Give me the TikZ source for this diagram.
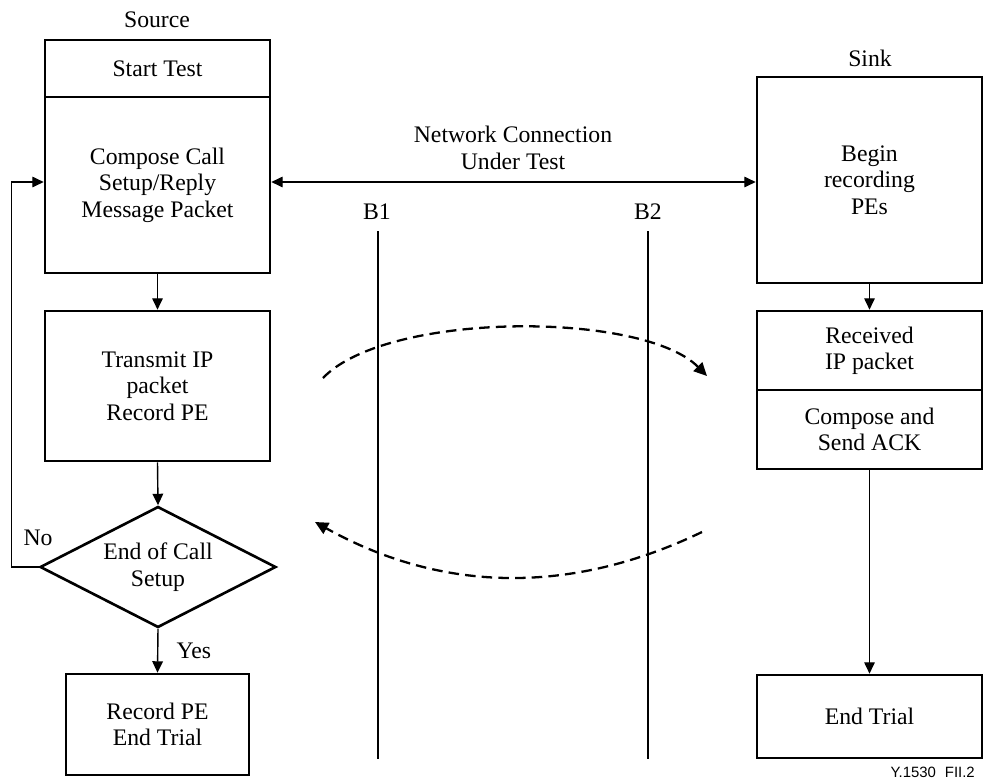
\documentclass[tikz,border=0pt]{standalone}
\usepackage{fontspec}
\setmainfont{Liberation Serif}
\newfontfamily\figfont{Liberation Sans}
\usetikzlibrary{arrows.meta,shapes.geometric}
\tikzset{
  txt/.style={font=\fontsize{13.5}{15}\selectfont, align=center},
  box/.style={txt, draw, line width=1.5pt, minimum width=4.5cm, inner sep=2pt},
  decide/.style={txt, diamond, draw, line width=1.5pt, aspect=1.95, inner sep=0pt,
    minimum width=4.72cm, minimum height=2.42cm},
  flow/.style={line width=0.8pt, -{Triangle[length=6.5pt,width=6pt]}},
  both/.style={line width=0.8pt, {Triangle[length=6.5pt,width=6pt]}-{Triangle[length=6.5pt,width=6pt]}},
  wire/.style={line width=1.1pt},
  pass/.style={line width=1.3pt, dash pattern=on 6pt off 3.5pt,
    -{Triangle[length=7.5pt,width=7pt]}}
}
\begin{document}
\begin{tikzpicture}[x=0.02cm, y=-0.02cm]
\useasboundingbox (0,0) rectangle (984,778);
% source side
\node[txt] (source) at (157,20) {Source};
\node[box, minimum height=1.14cm] (start) at (157.5,68.5) {Start Test};
\node[box, minimum height=3.52cm] (compose) at (157.5,185) {Compose Call\\Setup/Reply\\Message Packet};
\node[box, minimum height=3.0cm] (transmit) at (157.5,386) {Transmit IP\\packet\\Record PE};
\node[decide] (endcall) at (158,567) {End of Call\\Setup};
\node[box, minimum width=3.66cm, minimum height=2.02cm] (recpe) at (157.5,724.5) {Record PE\\End Trial};
\draw[flow] (compose.south) -- (transmit.north);
\draw[flow] (transmit.south) -- (endcall.north);
\draw[flow] (endcall.south) -- (recpe.north) node[txt, midway, right=7pt] {Yes};
\coordinate (netlevel) at (513,182);
\draw[flow] (endcall.west) -- ++(-27,0) |- (compose.west |- netlevel);
\node[txt] (nolbl) at (38,538) {No};
% sink side
\node[txt] (sink) at (870,58) {Sink};
\node[box, minimum height=4.12cm] (begin) at (869.5,180) {Begin\\recording\\PEs};
\node[box, minimum height=1.58cm] (received) at (869.5,350.5) {Received\\IP packet};
\node[box, minimum height=1.58cm] (ack) at (869.5,429.5) {Compose and\\Send ACK};
\node[box, minimum height=1.66cm] (endtrial) at (869.5,716.5) {End Trial};
\draw[flow] (begin.south) -- (received.north);
\draw[flow] (ack.south) -- (endtrial.north);
% network under test
\draw[both] (compose.east |- netlevel) -- (begin.west |- netlevel);
\node[txt] (net) at (513,148) {Network Connection\\Under Test};
\node[txt] (b1) at (377,212) {B1};
\node[txt] (b2) at (648,212) {B2};
\coordinate (b1end) at (378,759);
\coordinate (b2end) at (648,759);
\draw[wire] (b1.south) ++(1,5) -- (b1end);
\draw[wire] (b2.south) ++(0,5) -- (b2end);
% packets
\coordinate (outA) at (323,378);
\coordinate (outB) at (707,376);
\coordinate (backA) at (702,532);
\coordinate (backB) at (315,522);
\draw[pass] (outA) .. controls (387,311) and (643,311) .. (outB);
\draw[pass] (backA) .. controls (573,594) and (444,594) .. (backB);
\node[font=\figfont\fontsize{8.5}{9}\selectfont, anchor=east] (figno) at (981,772) {Y.1530\hspace{0.6em}FII.2};
\end{tikzpicture}
\end{document}
